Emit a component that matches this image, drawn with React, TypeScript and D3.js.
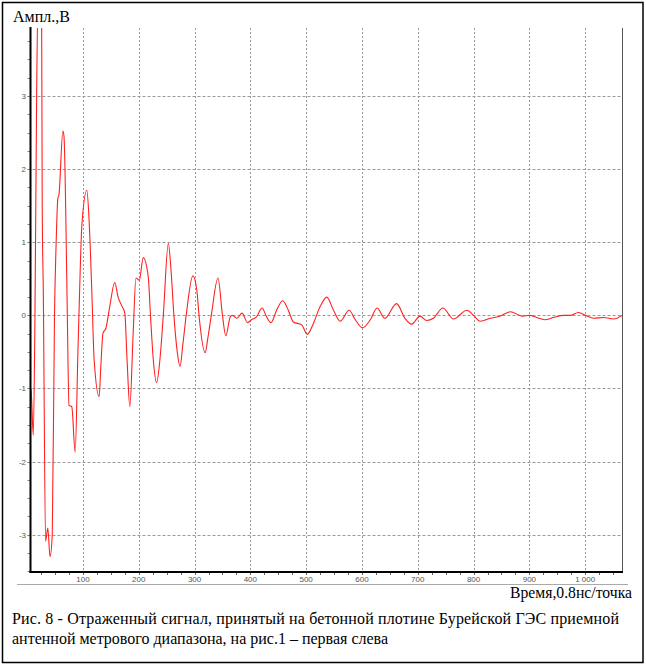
import React from 'react';
import * as d3 from 'd3';

const times = [6, 7, 8, 11, 14, 17, 22, 26, 27, 29, 33, 37, 41, 45, 49, 52, 55, 57, 64, 66, 71, 72, 75, 80, 86, 91, 95, 98, 107, 111, 116, 120, 129, 132, 136, 141, 148, 157, 163, 169, 175, 179, 184, 190, 195, 201, 208, 217, 221, 226, 232, 238, 244, 253, 258, 263, 269, 274, 279, 285, 297, 304, 308, 319, 324, 330, 342, 350, 356, 364, 368, 376, 385, 395, 402, 411, 421, 429, 437, 447, 458, 468, 477, 492, 502, 513, 525, 537, 549, 561, 577, 588, 601, 615, 627, 641, 662, 677, 689, 704, 716, 728, 745, 764, 788, 800, 812, 830, 848, 866, 887, 901, 913, 928, 943, 961, 973, 988, 1003, 1015, 1033, 1051, 1066];
const amps = [-1.1, -1.0, -1.15, -1.64, 0, 3.0, 5.0, 3.93, 1.5, 0.3, -3.09, -2.91, -3.3, -3.0, 0, 1.0, 1.6, 1.65, 2.52, 2.45, 0.5, 0, -1.23, -1.25, -1.87, -0.5, 0.6, 1.23, 1.71, 1.3, 0.3, -0.6, -1.11, -0.7, -0.24, -0.18, 0.12, 0.45, 0.25, 0.14, 0.03, -0.6, -1.25, -0.24, 0.51, 0.48, 0.79, 0.53, 0, -0.6, -0.92, -0.6, 0, 0.985, 0.6, 0, -0.5, -0.7, -0.4, 0, 0.54, 0.35, 0, -0.51, -0.3, 0, 0.51, 0, -0.28, -0.02, 0, -0.04, 0.03, -0.1, -0.06, -0.02, 0.1, -0.02, -0.1, 0.07, 0.2, 0.07, -0.09, -0.13, -0.26, -0.11, 0.12, 0.25, 0.07, -0.08, 0.07, -0.06, -0.17, -0.06, 0.1, -0.04, 0.16, -0.04, -0.12, -0.01, -0.07, -0.04, 0.1, -0.05, 0.07, 0, -0.08, -0.04, -0.01, 0.05, -0.01, 0, -0.03, -0.06, -0.03, 0, 0, 0.04, -0.01, -0.04, -0.03, -0.05, 0];

const xTicks = [100, 200, 300, 400, 500, 600, 700, 800, 900, 1000];
const xTickLabels = ["100", "200", "300", "400", "500", "600", "700", "800", "900", "1 000"];
const yTicks = [-3, -2, -1, 0, 1, 2, 3];
const yTickLabels = ["-3", "-2", "-1", "0", "1", "2", "3"];

const yTitle = "Ампл.,В";
const xTitle = "Время,0.8нс/точка";
const caption1 = "Рис. 8 - Отраженный сигнал, принятый на бетонной плотине Бурейской ГЭС приемной";
const caption2 = "антенной метрового диапазона, на рис.1 – первая слева";

export default function App() {
  const W = 646, H = 666;
  const left = 30.5, right = 622, top = 28, bottom = 572;
  const x = d3.scaleLinear().domain([6, 1066]).range([left, right]);
  const y = d3.scaleLinear().domain([-3.51, 3.93]).range([bottom, top]);
  const pts: [number, number][] = times.map((t, i) => [t, amps[i]]);
  const line = d3.line<[number, number]>()
    .x(d => x(d[0]))
    .y(d => y(d[1]))
    .curve(d3.curveMonotoneX);
  const xMinor = d3.range(25, 1066, 25).filter(v => v > 6);
  const yMinor = d3.range(-3.5, 3.93, 0.25);
  const serif = "'Liberation Serif', 'DejaVu Serif', 'Times New Roman', serif";
  const sans = "'Liberation Sans', Arial, sans-serif";
  return (
    <svg width={W} height={H} style={{ position: 'absolute', left: 0, top: 0, background: '#fff' }}>
      <rect x={0} y={0} width={W} height={H} fill="#fff" />
      <rect x={2.5} y={2.5} width={640.5} height={660} fill="none" stroke="#000" strokeWidth={1.5} />
      <defs>
        <clipPath id="plotclip">
          <rect x={left} y={top} width={right - left} height={bottom - top} />
        </clipPath>
      </defs>
      {xTicks.map(v => (
        <line key={'gx' + v} x1={Math.round(x(v)) + 0.5} x2={Math.round(x(v)) + 0.5} y1={top} y2={bottom}
          stroke="#999" strokeWidth={1} strokeDasharray="2,2" />
      ))}
      {yTicks.map(v => (
        <line key={'gy' + v} x1={left - 3} x2={right} y1={Math.round(y(v)) + 0.5} y2={Math.round(y(v)) + 0.5}
          stroke="#999" strokeWidth={1} strokeDasharray="3,2" />
      ))}
      {xMinor.map(v => (
        <line key={'mx' + v} x1={Math.round(x(v)) + 0.5} x2={Math.round(x(v)) + 0.5} y1={bottom} y2={bottom + 3}
          stroke="#666" strokeWidth={1} />
      ))}
      {yMinor.map(v => (
        <line key={'my' + v} x1={left - 3} x2={left} y1={Math.round(y(v)) + 0.5} y2={Math.round(y(v)) + 0.5}
          stroke="#888" strokeWidth={1} />
      ))}
      <path d={line(pts) || ''} fill="none" stroke="#ff2020" strokeWidth={1.1} clipPath="url(#plotclip)" />
      <line x1={right + 0.5} x2={right + 0.5} y1={top} y2={bottom} stroke="#555" strokeWidth={1} />
      <line x1={left} x2={left} y1={top - 1} y2={bottom + 1} stroke="#000" strokeWidth={2} />
      <line x1={left - 1} x2={right + 1} y1={bottom} y2={bottom} stroke="#000" strokeWidth={2} />
      <line x1={17} x2={628} y1={584.5} y2={584.5} stroke="#aaa" strokeWidth={1} />
      {xTicks.map((v, i) => (
        <text key={'tx' + v} x={x(v)} y={582} textAnchor="middle" fontSize={8} fill="#555" fontFamily={sans}>{xTickLabels[i]}</text>
      ))}
      {yTicks.map((v, i) => (
        <text key={'ty' + v} x={26} y={y(v) + 3} textAnchor="end" fontSize={8} fill="#555" fontFamily={sans}>{yTickLabels[i]}</text>
      ))}
      <g style={{ fontFamily: serif }}>
        <text x={13} y={22} fontSize={16} fill="#000">{yTitle}</text>
        <text x={510} y={598} fontSize={16} fill="#000" textLength={122} lengthAdjust="spacingAndGlyphs">{xTitle}</text>
        <text x={12} y={624} fontSize={16} fill="#000" textLength={607} lengthAdjust="spacing">{caption1}</text>
        <text x={12} y={644} fontSize={16} fill="#000">{caption2}</text>
      </g>
    </svg>
  );
}
